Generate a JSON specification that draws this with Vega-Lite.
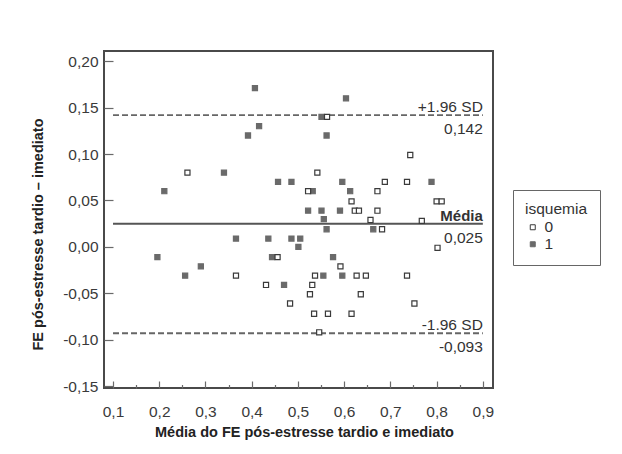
{
  "$schema": "https://vega.github.io/schema/vega-lite/v6.json",
  "autosize": {"type": "none"},
  "padding": {"left": 104, "top": 51, "right": 129, "bottom": 66},
  "width": 389,
  "height": 337,
  "background": "white",
  "config": {
    "font": "Liberation Sans",
    "locale": {"number": {"decimal": ",", "thousands": ".", "grouping": [3], "currency": ["", ""], "minus": "-"}},
    "view": {"stroke": "#4a4a4a", "strokeWidth": 2},
    "axis": {"grid": false, "domain": false, "labelFont": "Liberation Sans", "labelFontSize": 15.5, "labelColor": "#3a3a3a", "tickColor": "#6a6a6a", "tickWidth": 1.2, "titleFont": "Liberation Sans", "titleFontSize": 14.5, "titleFontWeight": "bold", "titleColor": "#222"},
    "legend": {"labelFont": "Liberation Sans", "titleFont": "Liberation Sans"}
  },
  "datasets": {
    "pts": [
      {"media": 0.407, "dif": 0.171, "isquemia": "1"},
      {"media": 0.416, "dif": 0.130, "isquemia": "1"},
      {"media": 0.392, "dif": 0.120, "isquemia": "1"},
      {"media": 0.340, "dif": 0.080, "isquemia": "1"},
      {"media": 0.457, "dif": 0.070, "isquemia": "1"},
      {"media": 0.486, "dif": 0.070, "isquemia": "1"},
      {"media": 0.211, "dif": 0.060, "isquemia": "1"},
      {"media": 0.604, "dif": 0.160, "isquemia": "1"},
      {"media": 0.551, "dif": 0.140, "isquemia": "1"},
      {"media": 0.562, "dif": 0.120, "isquemia": "1"},
      {"media": 0.596, "dif": 0.070, "isquemia": "1"},
      {"media": 0.789, "dif": 0.070, "isquemia": "1"},
      {"media": 0.532, "dif": 0.060, "isquemia": "1"},
      {"media": 0.613, "dif": 0.060, "isquemia": "1"},
      {"media": 0.522, "dif": 0.039, "isquemia": "1"},
      {"media": 0.551, "dif": 0.039, "isquemia": "1"},
      {"media": 0.591, "dif": 0.039, "isquemia": "1"},
      {"media": 0.556, "dif": 0.030, "isquemia": "1"},
      {"media": 0.562, "dif": 0.019, "isquemia": "1"},
      {"media": 0.663, "dif": 0.019, "isquemia": "1"},
      {"media": 0.486, "dif": 0.009, "isquemia": "1"},
      {"media": 0.505, "dif": 0.009, "isquemia": "1"},
      {"media": 0.501, "dif": 0.000, "isquemia": "1"},
      {"media": 0.576, "dif": -0.011, "isquemia": "1"},
      {"media": 0.555, "dif": -0.031, "isquemia": "1"},
      {"media": 0.596, "dif": -0.031, "isquemia": "1"},
      {"media": 0.366, "dif": 0.009, "isquemia": "1"},
      {"media": 0.436, "dif": 0.009, "isquemia": "1"},
      {"media": 0.196, "dif": -0.011, "isquemia": "1"},
      {"media": 0.444, "dif": -0.011, "isquemia": "1"},
      {"media": 0.290, "dif": -0.021, "isquemia": "1"},
      {"media": 0.256, "dif": -0.031, "isquemia": "1"},
      {"media": 0.470, "dif": -0.041, "isquemia": "1"},
      {"media": 0.261, "dif": 0.080, "isquemia": "0"},
      {"media": 0.563, "dif": 0.140, "isquemia": "0"},
      {"media": 0.743, "dif": 0.099, "isquemia": "0"},
      {"media": 0.542, "dif": 0.080, "isquemia": "0"},
      {"media": 0.688, "dif": 0.070, "isquemia": "0"},
      {"media": 0.736, "dif": 0.070, "isquemia": "0"},
      {"media": 0.522, "dif": 0.060, "isquemia": "0"},
      {"media": 0.672, "dif": 0.060, "isquemia": "0"},
      {"media": 0.800, "dif": 0.049, "isquemia": "0"},
      {"media": 0.811, "dif": 0.049, "isquemia": "0"},
      {"media": 0.616, "dif": 0.049, "isquemia": "0"},
      {"media": 0.623, "dif": 0.039, "isquemia": "0"},
      {"media": 0.632, "dif": 0.039, "isquemia": "0"},
      {"media": 0.672, "dif": 0.039, "isquemia": "0"},
      {"media": 0.657, "dif": 0.029, "isquemia": "0"},
      {"media": 0.768, "dif": 0.028, "isquemia": "0"},
      {"media": 0.682, "dif": 0.019, "isquemia": "0"},
      {"media": 0.802, "dif": -0.001, "isquemia": "0"},
      {"media": 0.592, "dif": -0.021, "isquemia": "0"},
      {"media": 0.537, "dif": -0.031, "isquemia": "0"},
      {"media": 0.627, "dif": -0.031, "isquemia": "0"},
      {"media": 0.647, "dif": -0.031, "isquemia": "0"},
      {"media": 0.736, "dif": -0.031, "isquemia": "0"},
      {"media": 0.531, "dif": -0.041, "isquemia": "0"},
      {"media": 0.526, "dif": -0.051, "isquemia": "0"},
      {"media": 0.636, "dif": -0.051, "isquemia": "0"},
      {"media": 0.483, "dif": -0.061, "isquemia": "0"},
      {"media": 0.752, "dif": -0.061, "isquemia": "0"},
      {"media": 0.535, "dif": -0.072, "isquemia": "0"},
      {"media": 0.565, "dif": -0.072, "isquemia": "0"},
      {"media": 0.616, "dif": -0.072, "isquemia": "0"},
      {"media": 0.546, "dif": -0.092, "isquemia": "0"},
      {"media": 0.456, "dif": -0.011, "isquemia": "0"},
      {"media": 0.366, "dif": -0.031, "isquemia": "0"},
      {"media": 0.431, "dif": -0.041, "isquemia": "0"}
    ],
    "lines": [
      {"name": "+1.96 SD", "valor": 0.142, "rotulo": "0,142", "from": 0.1, "to": 0.9, "tipo": "sd"},
      {"name": "Média", "valor": 0.025, "rotulo": "0,025", "from": 0.1, "to": 0.9, "tipo": "media"},
      {"name": "-1.96 SD", "valor": -0.093, "rotulo": "-0,093", "from": 0.1, "to": 0.9, "tipo": "sd"}
    ]
  },
  "resolve": {"axis": {"x": "independent"}},
  "layer": [
    {
      "data": {"name": "lines"},
      "transform": [{"filter": "datum.tipo == 'sd'"}],
      "mark": {"type": "rule", "strokeDash": [6, 3], "strokeWidth": 1.8, "color": "#666"},
      "encoding": {
        "x": {"field": "from", "type": "quantitative", "scale": {"domain": [0.0805, 0.922], "nice": false, "zero": false},
              "axis": {"orient": "bottom", "values": [0.15, 0.25, 0.35, 0.45, 0.55, 0.65, 0.75, 0.85], "labels": false, "title": null, "tickSize": -3.5}},
        "x2": {"field": "to"},
        "y": {"field": "valor", "type": "quantitative"}
      }
    },
    {
      "data": {"name": "lines"},
      "transform": [{"filter": "datum.tipo == 'media'"}],
      "mark": {"type": "rule", "strokeWidth": 2, "color": "#555"},
      "encoding": {
        "x": {"field": "from", "type": "quantitative", "axis": null},
        "x2": {"field": "to"},
        "y": {"field": "valor", "type": "quantitative"}
      }
    },
    {
      "data": {"name": "pts"},
      "mark": {"type": "point", "shape": "square", "filled": true, "size": 26, "strokeWidth": 1.2, "opacity": 1},
      "encoding": {
        "x": {"field": "media", "type": "quantitative",
              "axis": {"orient": "bottom", "values": [0.1, 0.2, 0.3, 0.4, 0.5, 0.6, 0.7, 0.8, 0.9], "format": ".1f", "tickSize": -7, "labelPadding": 23, "title": "Média do FE pós-estresse tardio e imediato", "titlePadding": 6, "titleX": 200}},
        "y": {"field": "dif", "type": "quantitative",
              "scale": {"domain": [-0.152, 0.211], "nice": false, "zero": false},
              "axis": {"values": [-0.15, -0.1, -0.05, 0, 0.05, 0.1, 0.15, 0.2], "format": ".2f", "tickSize": -9, "labelPadding": 15, "title": "FE pós-estresse tardio – imediato", "titlePadding": 17, "titleY": 183}},
        "fill": {"field": "isquemia", "type": "nominal", "scale": {"domain": ["0", "1"], "range": ["white", "#6a6a6a"]},
                 "legend": {"orient": "none", "legendX": 409, "legendY": 139, "title": "isquemia", "titleFontSize": 15.5, "titleFontWeight": "normal", "titleColor": "#333", "labelFontSize": 15.5, "labelColor": "#333", "symbolSize": 25, "symbolStrokeWidth": 1, "strokeColor": "#666", "padding": 12, "rowPadding": 0, "titlePadding": 2, "symbolType": "square"}},
        "stroke": {"field": "isquemia", "type": "nominal", "scale": {"domain": ["0", "1"], "range": ["#3a3a3a", "#6a6a6a"]},
                   "legend": {"orient": "none", "legendX": 409, "legendY": 139, "title": "isquemia"}}
      }
    },
    {
      "data": {"name": "lines"},
      "transform": [{"filter": "datum.tipo == 'sd'"}],
      "mark": {"type": "text", "align": "right", "baseline": "alphabetic", "dy": -3, "fontSize": 15.5, "color": "#333"},
      "encoding": {
        "x": {"field": "to", "type": "quantitative", "axis": null},
        "y": {"field": "valor", "type": "quantitative"},
        "text": {"field": "name"}
      }
    },
    {
      "data": {"name": "lines"},
      "transform": [{"filter": "datum.tipo == 'media'"}],
      "mark": {"type": "text", "align": "right", "baseline": "alphabetic", "dy": -3, "fontSize": 15, "fontWeight": "bold", "color": "#333"},
      "encoding": {
        "x": {"field": "to", "type": "quantitative", "axis": null},
        "y": {"field": "valor", "type": "quantitative"},
        "text": {"field": "name"}
      }
    },
    {
      "data": {"name": "lines"},
      "mark": {"type": "text", "align": "right", "baseline": "alphabetic", "dy": 19, "fontSize": 15.5, "color": "#333"},
      "encoding": {
        "x": {"field": "to", "type": "quantitative", "axis": null},
        "y": {"field": "valor", "type": "quantitative"},
        "text": {"field": "rotulo"}
      }
    }
  ]
}
